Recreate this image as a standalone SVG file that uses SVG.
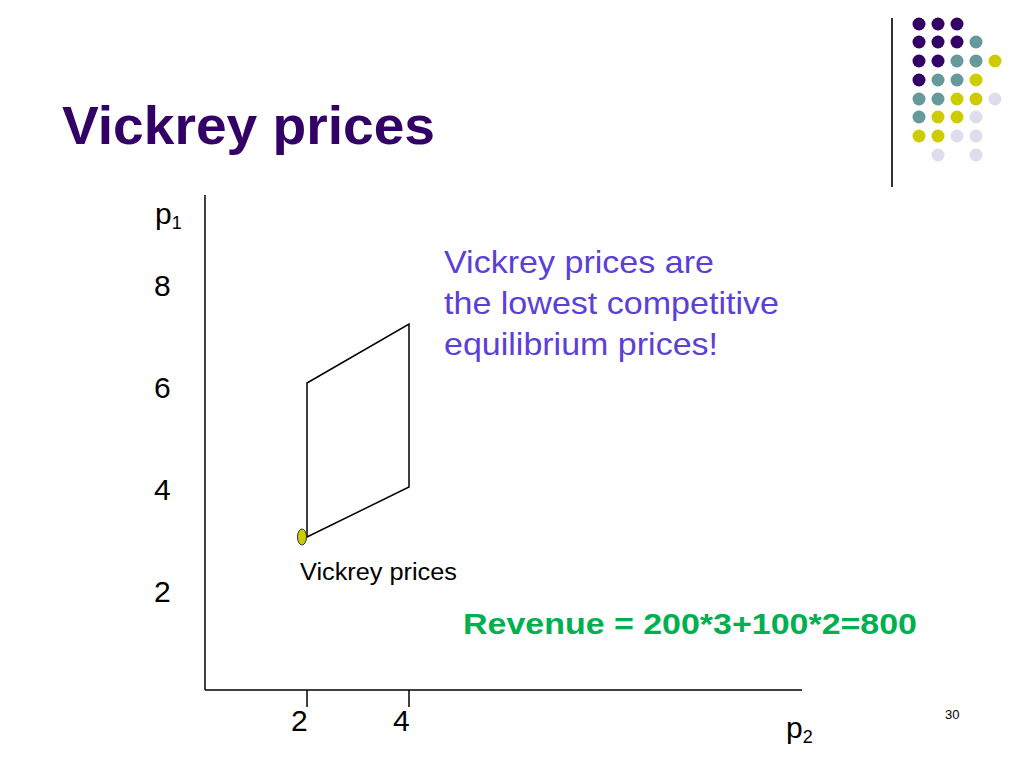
<svg xmlns="http://www.w3.org/2000/svg" width="1024" height="768" viewBox="0 0 1024 768">
<style>
text{font-family:"Liberation Sans",Arial,sans-serif}
.ax{stroke:#000;stroke-width:1.5;fill:none}
.lbl{font-size:30px;fill:#000}
.p{fill:#330066}.t{fill:#669999}.y{fill:#CCCC00}.l{fill:#DDDDEE}
.blue{font-size:32px;fill:#5B3FD6}
</style>
<rect width="1024" height="768" fill="#fff"/>
<g id="decor">
<line x1="892" y1="18" x2="892" y2="187" stroke="#333" stroke-width="2"/>
<g>
<circle class="p" cx="919" cy="24" r="6.5"/><circle class="p" cx="938" cy="24" r="6.5"/><circle class="p" cx="957" cy="24" r="6.5"/>
<circle class="p" cx="919" cy="42" r="6.5"/><circle class="p" cx="938" cy="42" r="6.5"/><circle class="p" cx="957" cy="42" r="6.5"/><circle class="t" cx="976" cy="42" r="6.5"/>
<circle class="p" cx="919" cy="61" r="6.5"/><circle class="p" cx="938" cy="61" r="6.5"/><circle class="t" cx="957" cy="61" r="6.5"/><circle class="t" cx="976" cy="61" r="6.5"/><circle class="y" cx="995" cy="61" r="6.5"/>
<circle class="p" cx="919" cy="80" r="6.5"/><circle class="t" cx="938" cy="80" r="6.5"/><circle class="t" cx="957" cy="80" r="6.5"/><circle class="y" cx="976" cy="80" r="6.5"/>
<circle class="t" cx="919" cy="99" r="6.5"/><circle class="t" cx="938" cy="99" r="6.5"/><circle class="y" cx="957" cy="99" r="6.5"/><circle class="y" cx="976" cy="99" r="6.5"/><circle class="l" cx="995" cy="99" r="6.5"/>
<circle class="t" cx="919" cy="117" r="6.5"/><circle class="y" cx="938" cy="117" r="6.5"/><circle class="y" cx="957" cy="117" r="6.5"/><circle class="l" cx="976" cy="117" r="6.5"/>
<circle class="y" cx="919" cy="136" r="6.5"/><circle class="y" cx="938" cy="136" r="6.5"/><circle class="l" cx="957" cy="136" r="6.5"/><circle class="l" cx="976" cy="136" r="6.5"/>
<circle class="l" cx="938" cy="155" r="6.5"/><circle class="l" cx="976" cy="155" r="6.5"/>
</g>
</g>
<g id="title"><text x="62" y="144" font-size="54" font-weight="bold" fill="#330066" textLength="373" lengthAdjust="spacingAndGlyphs">Vickrey prices</text></g>
<g id="axes">
<line class="ax" x1="205" y1="195" x2="205" y2="690"/>
<line class="ax" x1="205" y1="690" x2="802" y2="690"/>
<line class="ax" x1="307" y1="690" x2="307" y2="707"/>
<line class="ax" x1="409" y1="690" x2="409" y2="707"/>
<text class="lbl" x="155" y="224">p<tspan font-size="18" dy="5">1</tspan></text>
<text class="lbl" x="154" y="296">8</text>
<text class="lbl" x="154" y="398">6</text>
<text class="lbl" x="154" y="500">4</text>
<text class="lbl" x="154" y="602">2</text>
<text class="lbl" x="291" y="731">2</text>
<text class="lbl" x="393" y="731">4</text>
<text class="lbl" x="786" y="738">p<tspan font-size="18" dy="5">2</tspan></text>
</g>
<g id="region">
<polygon points="307,383 409,324 409,487 307,537" fill="none" stroke="#000" stroke-width="1.5"/>
</g>
<g id="vickrey-point">
<ellipse cx="302" cy="537" rx="4.5" ry="8" fill="#CCCC00" stroke="#333" stroke-width="1"/>
<text x="300" y="580" font-size="23" fill="#000" textLength="157" lengthAdjust="spacingAndGlyphs">Vickrey prices</text>
</g>
<g id="note">
<text class="blue" x="444" y="273" textLength="270" lengthAdjust="spacingAndGlyphs">Vickrey prices are</text>
<text class="blue" x="444" y="314" textLength="335" lengthAdjust="spacingAndGlyphs">the lowest competitive</text>
<text class="blue" x="444" y="355" textLength="274" lengthAdjust="spacingAndGlyphs">equilibrium prices!</text>
</g>
<g id="revenue"><text x="463" y="634" font-size="30" font-weight="bold" fill="#00B050" textLength="454" lengthAdjust="spacingAndGlyphs">Revenue = 200*3+100*2=800</text></g>
<text x="945" y="719" font-size="13" fill="#000">30</text>
</svg>
